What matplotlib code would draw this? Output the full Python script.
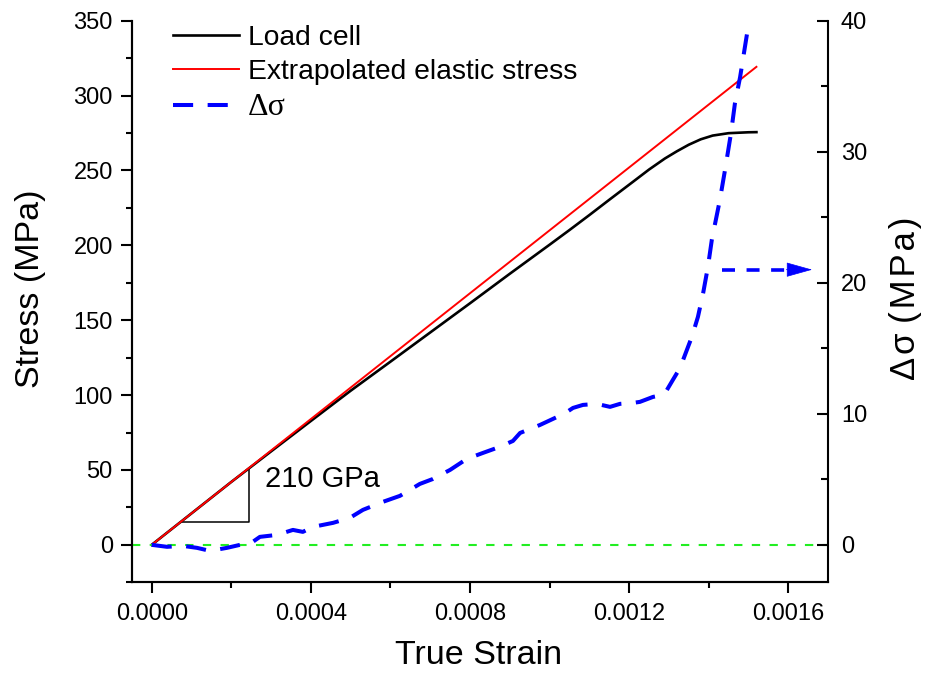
import matplotlib.pyplot as plt
import numpy as np
from matplotlib.ticker import MultipleLocator, FormatStrFormatter
from matplotlib.lines import Line2D
from matplotlib.font_manager import FontProperties

plt.rcParams['font.family'] = ['Liberation Sans', 'DejaVu Sans']

# Load cell stress (MPa) vs true strain
load_strain = [0, 0.0001, 0.0002, 0.0003, 0.0004, 0.0005, 0.0006, 0.0007, 0.0008,
               0.0009, 0.0010, 0.00105, 0.0011, 0.00115, 0.00121, 0.00125, 0.00129,
               0.00132, 0.00135, 0.00138, 0.00141, 0.00145, 0.0015, 0.00152]
load_stress = [0, 21.0, 42.0, 62.4, 82.7, 102.9, 122.3, 141.8, 161.3,
               181.0, 200.4, 210.2, 220.2, 230.4, 242.5, 250.6, 258.0,
               262.8, 267.2, 270.8, 273.3, 274.9, 275.5, 275.6]

# Extrapolated elastic stress (E = 210 GPa)
elastic_strain = [0, 0.00152]
elastic_stress = [0, 319.2]

# Delta sigma (MPa), right axis
ds_strain = [0, 0.0000385, 0.0000787, 0.000114, 0.0001465, 0.000189, 0.000222, 0.000247,
             0.000272, 0.000315, 0.000355, 0.000380, 0.000405, 0.000456, 0.000498, 0.000531,
             0.000581, 0.000624, 0.000674, 0.000707, 0.000750, 0.000792, 0.000833, 0.000875,
             0.000908, 0.000926, 0.000976, 0.001019, 0.001044, 0.001059, 0.001084, 0.001119,
             0.001152, 0.001177, 0.001209, 0.001227, 0.001260, 0.001285, 0.001295, 0.001310,
             0.001328, 0.001343, 0.001358, 0.001373, 0.001386, 0.001398, 0.001408, 0.001428,
             0.001441, 0.001456, 0.001466, 0.001479, 0.001499, 0.001503]
ds_value = [0, -0.15, -0.08, -0.23, -0.46, -0.23, 0.0, 0.08,
            0.61, 0.76, 1.14, 0.99, 1.37, 1.68, 2.06, 2.67,
            3.28, 3.74, 4.65, 5.03, 5.72, 6.56, 7.02, 7.48,
            7.93, 8.54, 9.15, 9.76, 10.15, 10.45, 10.68, 10.76,
            10.53, 10.76, 10.83, 10.91, 11.29, 11.44, 11.82, 12.59,
            13.5, 14.7, 15.9, 17.4, 19.2, 21.2, 23.3, 26.3,
            28.6, 31.4, 33.7, 35.7, 39.5, 40.0]

fig = plt.figure(figsize=(9.27, 6.77), dpi=100)
ax = fig.add_axes([0.1427, 0.1399, 0.7508, 0.8295])
ax2 = ax.twinx()

ax.set_xlim(-0.0000488, 0.0017006)
ax.set_ylim(-25, 350)
ax2.set_ylim(-25 / 8.75, 40)

# zero line
ax2.axhline(0, color='#22ee22', lw=1.5, dashes=(4, 4.5), zorder=1)

ax.plot(load_strain, load_stress, color='black', lw=1.9, zorder=3)
ax.plot(elastic_strain, elastic_stress, color='red', lw=1.4, zorder=4)

# slope triangle
ax.plot([0.0000754, 0.000245, 0.000245], [15, 15, 50.5], color='black', lw=1.1)
ax.text(0.000285, 44, '210 GPa', fontsize=21, va='center', ha='left')

ax2.plot(ds_strain, ds_value, color='blue', lw=2.9, dashes=(5.0, 3.6), zorder=5)

# arrow pointing to right axis
ax2.plot([0.001433, 0.00160], [21, 21], color='blue', lw=2.6, dashes=(3.6, 3.2))
ax2.annotate('', xy=(0.00166, 21), xytext=(0.001595, 21),
             arrowprops=dict(arrowstyle='-|>,head_length=1.0,head_width=0.28',
                             color='blue', lw=0.5, shrinkA=0, shrinkB=0,
                             mutation_scale=17))

# spines & ticks
for a in (ax, ax2):
    a.spines['top'].set_visible(False)
    for s in a.spines.values():
        s.set_linewidth(1.5)
ax.spines['right'].set_visible(False)

ax.xaxis.set_major_locator(MultipleLocator(0.0004))
ax.xaxis.set_minor_locator(MultipleLocator(0.0002))
ax.xaxis.set_major_formatter(FormatStrFormatter('%.4f'))
ax.yaxis.set_major_locator(MultipleLocator(50))
ax.yaxis.set_minor_locator(MultipleLocator(25))
ax2.yaxis.set_major_locator(MultipleLocator(10))
ax2.yaxis.set_minor_locator(MultipleLocator(5))

ax.tick_params(which='major', direction='out', length=8, width=1.5, labelsize=17, pad=6)
ax.tick_params(which='minor', direction='out', length=4.5, width=1.5)
ax.tick_params(axis='x', which='major', pad=7)
ax2.tick_params(which='major', direction='in', length=8, width=1.5, labelsize=17, pad=9)
ax2.tick_params(which='minor', direction='in', length=5, width=1.5)

fig.text(31 / 927, 1 - 289 / 677, 'Stress (MPa)', rotation=90, fontsize=24.5,
         ha='center', va='center')
fig.text(906 / 927, 1 - 298 / 677, '\u200a'.join('Δσ') + ' (\u200aM\u200aP\u200aa\u200a)',
         rotation=90, fontsize=25, ha='center', va='center')
fig.text(479 / 927, 1 - 655 / 677, 'True Strain', fontsize=24.5, ha='center', va='center')

handles = [Line2D([], [], color='black', lw=1.9),
           Line2D([], [], color='red', lw=1.4),
           Line2D([], [], color='blue', lw=2.9, dashes=(5.0, 3.6))]
leg = ax2.legend(handles, ['Load cell', 'Extrapolated elastic stress', 'Δσ'],
                 loc='upper left', bbox_to_anchor=(173 / 927, 1 - 25 / 677),
                 bbox_transform=fig.transFigure, frameon=False, fontsize=20.3,
                 handlelength=2.35, handletextpad=0.3, labelspacing=0.28,
                 borderpad=0, borderaxespad=0)
leg.get_texts()[2].set_fontproperties(FontProperties(family=['Liberation Serif', 'DejaVu Serif'], size=23))

fig.savefig('out.png', dpi=100)
